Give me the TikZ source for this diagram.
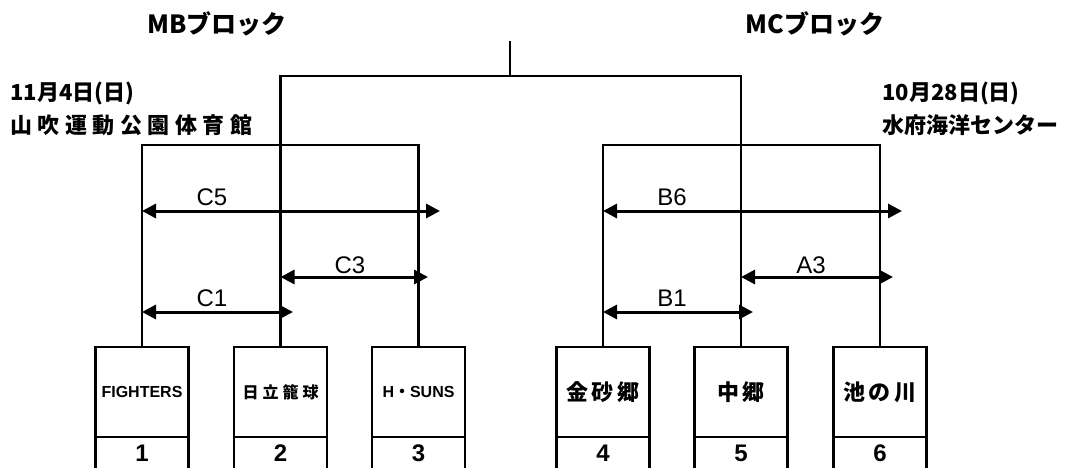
\documentclass[tikz,border=0pt]{standalone}
\usepackage{fontspec}
\setmainfont{Liberation Sans}
\newfontfamily\jp{Noto Sans CJK JP}
\usetikzlibrary{arrows.meta}
\begin{document}
\begin{tikzpicture}[x=1pt,y=-1pt,line width=2.9pt,
  teambox/.style={draw,line width=2.9pt,minimum width=93pt,minimum height=90pt,inner sep=0pt,outer sep=0pt,anchor=north},
  numbox/.style={draw,line width=2.9pt,minimum width=93pt,minimum height=40pt,inner sep=0pt,outer sep=0pt,text height=17pt,text depth=8pt,anchor=north,font=\fontsize{24}{24}\selectfont\bfseries},
  link/.style={line width=2.9pt},
  match/.style={line width=3pt,{Triangle[length=14pt,width=14pt]}-{Triangle[length=14pt,width=14pt]}},
  lbl/.style={inner sep=0pt,font=\fontsize{24}{24}\selectfont},
  title/.style={inner sep=0pt,font=\fontsize{25}{25}\selectfont\jp\bfseries},
  info/.style={inner sep=0pt,anchor=west,font=\fontsize{22}{22}\selectfont\jp\bfseries},
  latname/.style={font=\fontsize{16}{16}\selectfont\bfseries},
  jpname/.style={font=\fontsize{22}{22}\selectfont\jp\bfseries\addfontfeature{LetterSpace=15}}]
\clip (0,0) rectangle (1078,468);
\useasboundingbox (0,0) rectangle (1078,468);
% titles and venues
\node[title] (mbt) at (217,24) {MBブロック};
\node[title] (mct) at (815,24) {MCブロック};
\node[info] (mbd) at (9,94) {11月4日(日)};
\node[info] (mbv) at (9,125) {\addfontfeature{LetterSpace=25}山吹運動公園体育館};
\node[info] (mcd) at (881,94) {10月28日(日)};
\node[info] (mcv) at (881,125) {水府海洋センター};
% team boxes
\node[teambox,latname] (t1) at (142,347) {FIGHTERS};
\node[teambox,jpname] (t2) at (280.5,347) {\fontsize{16}{16}\selectfont\addfontfeature{LetterSpace=25}日立籠球};
\node[teambox,latname] (t3) at (418.5,347) {H{\jp ・}SUNS};
\node[teambox,jpname] (t4) at (603,347) {金砂郷};
\node[teambox,jpname] (t5) at (741,347) {中郷};
\node[teambox,jpname] (t6) at (880,347) {池の川};
\node[numbox] (n1) at (t1.south) {1};
\node[numbox] (n2) at (t2.south) {2};
\node[numbox] (n3) at (t3.south) {3};
\node[numbox] (n4) at (t4.south) {4};
\node[numbox] (n5) at (t5.south) {5};
\node[numbox] (n6) at (t6.south) {6};
% bracket
\coordinate (mbL) at (142,145);
\coordinate (mbR) at (418.5,145);
\coordinate (mcL) at (603,145);
\coordinate (mcR) at (880,145);
\coordinate (topL) at (280.5,76);
\coordinate (topR) at (741,76);
\coordinate (stemB) at (510,76);
\coordinate (stemT) at (510,41);
\draw[link] (t1.north) -- (mbL) -- (mbR) -- (t3.north);
\draw[link] (t2.north) -- (topL) -- (topR) -- (t5.north);
\draw[link] (t4.north) -- (mcL) -- (mcR) -- (t6.north);
\draw[link] (stemB) -- (stemT);
% matches
\coordinate (c5a) at (142,211); \coordinate (c5b) at (440,211);
\coordinate (c3a) at (280.5,277); \coordinate (c3b) at (428,277);
\coordinate (c1a) at (142,312); \coordinate (c1b) at (293,312);
\coordinate (b6a) at (603,211); \coordinate (b6b) at (902,211);
\coordinate (a3a) at (741,277); \coordinate (a3b) at (893,277);
\coordinate (b1a) at (603,312); \coordinate (b1b) at (753,312);
\draw[match] (c5a) -- (c5b);
\draw[match] (c3a) -- (c3b);
\draw[match] (c1a) -- (c1b);
\draw[match] (b6a) -- (b6b);
\draw[match] (a3a) -- (a3b);
\draw[match] (b1a) -- (b1b);
\node[lbl] (lc5) at (212,197) {C5};
\node[lbl] (lc3) at (350,265) {C3};
\node[lbl] (lc1) at (212,298) {C1};
\node[lbl] (lb6) at (672,197) {B6};
\node[lbl] (la3) at (811,265) {A3};
\node[lbl] (lb1) at (672,298) {B1};
\end{tikzpicture}
\end{document}
